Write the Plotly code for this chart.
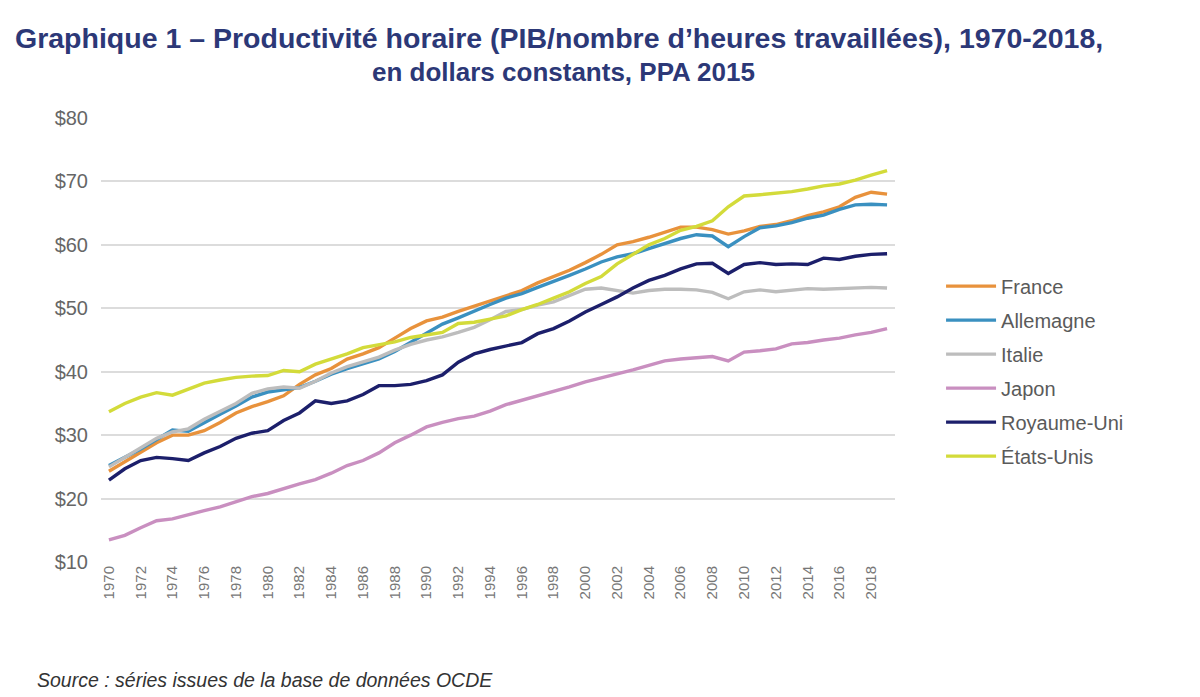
import plotly.graph_objects as go

years = list(range(1970, 2020))

france = [24.3, 25.8, 27.3, 28.8, 30.0, 30.0, 30.7, 32.0, 33.5, 34.5,
          35.3, 36.2, 38.0, 39.5, 40.5, 42.0, 42.8, 43.8, 45.3, 46.8,
          48.0, 48.6, 49.5, 50.3, 51.2, 52.0, 52.8, 54.0, 55.0, 56.0,
          57.2, 58.5, 60.0, 60.5, 61.2, 62.0, 62.8, 62.8, 62.4, 61.7,
          62.2, 62.9, 63.2, 63.8, 64.6, 65.2, 66.0, 67.5, 68.3, 68.0]
allemagne = [25.2, 26.5, 27.8, 29.3, 30.8, 30.6, 32.0, 33.3, 34.6, 36.0,
             36.8, 37.2, 37.5, 38.5, 39.6, 40.5, 41.2, 42.0, 43.2, 44.6,
             46.0, 47.5, 48.5, 49.6, 50.6, 51.6, 52.3, 53.3, 54.2, 55.2,
             56.2, 57.3, 58.1, 58.6, 59.4, 60.2, 61.0, 61.6, 61.4, 59.7,
             61.3, 62.7, 63.0, 63.5, 64.2, 64.7, 65.6, 66.3, 66.4, 66.3]
italie = [25.0, 26.5, 28.0, 29.5, 30.5, 31.0, 32.5, 33.8, 35.0, 36.6,
          37.3, 37.6, 37.4, 38.5, 39.8, 40.8, 41.5, 42.3, 43.4, 44.3,
          45.0, 45.5, 46.2, 47.0, 48.2, 49.5, 49.8, 50.5, 51.0, 52.0,
          53.0, 53.2, 52.8, 52.4, 52.8, 53.0, 53.0, 52.9, 52.5, 51.5,
          52.6, 52.9, 52.6, 52.9, 53.1, 53.0, 53.1, 53.3, 53.3, 53.2]
japon = [13.5, 14.2, 15.4, 16.5, 16.8, 17.5, 18.1, 18.7, 19.5, 20.3,
         20.8, 21.6, 22.3, 23.0, 24.0, 25.2, 26.0, 27.2, 28.8, 30.0,
         31.3, 32.0, 32.6, 33.0, 33.8, 34.8, 35.5, 36.2, 36.8, 37.6,
         38.4, 39.0, 39.6, 40.3, 41.0, 41.7, 42.0, 42.2, 42.4, 41.7,
         43.1, 43.3, 43.6, 44.4, 44.6, 45.0, 45.3, 45.8, 46.2, 46.8]
royaume_uni = [22.9, 24.7, 26.0, 26.5, 26.3, 26.0, 27.2, 28.2, 29.5, 30.3,
               30.7, 32.3, 33.5, 35.4, 35.0, 35.4, 36.4, 37.8, 37.8, 38.0,
               38.6, 39.5, 41.5, 42.8, 43.5, 44.0, 44.6, 46.0, 46.8, 48.0,
               49.4, 50.6, 51.8, 53.2, 54.4, 55.2, 56.2, 57.0, 57.1, 55.5,
               56.9, 57.2, 56.9, 57.0, 56.9, 57.9, 57.7, 58.2, 58.5, 58.6]
etats_unis = [33.7, 35.0, 36.0, 36.7, 36.3, 37.3, 38.2, 38.7, 39.1, 39.3,
              39.4, 40.2, 40.0, 41.2, 42.0, 42.8, 43.8, 44.2, 44.7, 45.4,
              45.8, 46.2, 47.6, 47.8, 48.3, 48.8, 49.8, 50.6, 51.6, 52.6,
              53.9, 55.0, 57.0, 58.5, 60.0, 61.0, 62.3, 62.9, 63.8, 66.0,
              67.7, 67.9, 68.1, 68.4, 68.8, 69.3, 69.6, 70.2, 71.0, 71.7]

series_names = ["France", "Allemagne", "Italie", "Japon", "Royaume-Uni", "États-Unis"]
series_values = [france, allemagne, italie, japon, royaume_uni, etats_unis]
colors = ["#E8923C", "#3A90C0", "#BDBDBD", "#C98FC0", "#1C1F6B", "#D3DB3A"]

x_tickvals = list(range(1970, 2019, 2))
x_ticktext = [str(v) for v in x_tickvals]
y_tickvals = [10, 20, 30, 40, 50, 60, 70, 80]
y_ticktext = ["$" + str(v) for v in y_tickvals]

fig = go.Figure()
for i, (name, vals, col) in enumerate(zip(series_names, series_values, colors)):
    fig.add_trace(go.Scatter(x=years, y=vals, mode="lines", name=name,
                             legendgroup=str(i),
                             line=dict(color=col, width=3.4)))

fig.update_layout(
    width=1200, height=697,
    paper_bgcolor="white", plot_bgcolor="white",
    font=dict(family="Liberation Sans, Arial, sans-serif", color="#595959"),
    margin=dict(l=101, r=305, t=118, b=135),
    xaxis=dict(range=[1969.5, 2019.5], tickvals=x_tickvals, ticktext=x_ticktext,
               tickangle=-90, tickfont=dict(size=15, color="#777777"),
               showgrid=False, zeroline=False, showline=False, ticks=""),
    yaxis=dict(range=[10, 80], tickvals=y_tickvals, ticktext=y_ticktext,
               tickfont=dict(size=20, color="#666666"),
               showgrid=True, gridcolor="#DCDCDC", gridwidth=2, zeroline=False,
               showline=False, ticks="", ticklabelstandoff=12),
    legend=dict(x=1.058, xanchor="left", y=0.43, yanchor="middle",
                font=dict(size=20, color="#5A5A5A"), itemwidth=50,
                tracegroupgap=5, bgcolor="rgba(0,0,0,0)"),
    showlegend=True,
)

fig.add_annotation(
    text="<b>Graphique 1 – Productivité horaire (PIB/nombre d’heures travaillées), 1970-2018,</b>",
    xref="paper", yref="paper", x=0.577, y=(562 - 38) / 444,
    xanchor="center", yanchor="middle", showarrow=False,
    font=dict(family="Liberation Sans, Arial, sans-serif", size=28.5, color="#2C3877"))
fig.add_annotation(
    text="<b>en dollars constants, PPA 2015</b>",
    xref="paper", yref="paper", x=0.582, y=(562 - 72) / 444,
    xanchor="center", yanchor="middle", showarrow=False,
    font=dict(family="Liberation Sans, Arial, sans-serif", size=26, color="#2C3877"))

fig.add_annotation(text="<i>Source : séries issues de la base de données OCDE</i>",
                   xref="paper", yref="paper", x=-0.083, y=(562 - 680) / 444,
                   xanchor="left", yanchor="middle", showarrow=False,
                   font=dict(size=19.5, color="#333333"))

fig.write_html("out.html")
